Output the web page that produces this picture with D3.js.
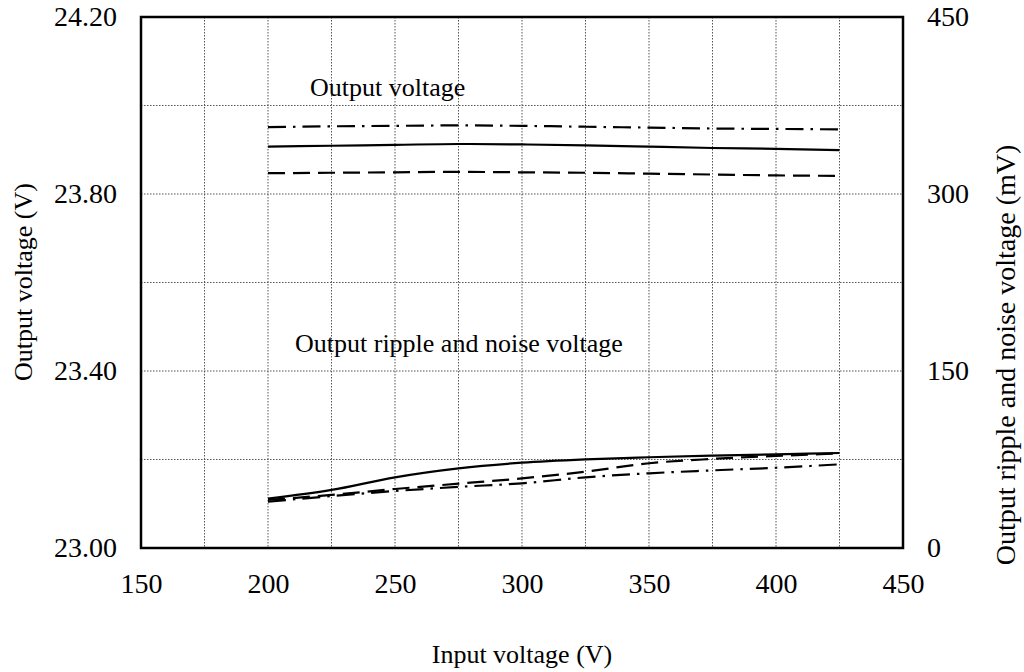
<!DOCTYPE html>
<html><head><meta charset="utf-8">
<script src="https://cdn.jsdelivr.net/npm/d3@7/dist/d3.min.js"></script>
<style>body{margin:0;background:#fff}svg{display:block}text{font-family:"Liberation Serif","Times New Roman",serif;fill:#000}</style>
</head><body><svg id="c" width="1024" height="672"></svg>
<script>
const inputV = [200, 225, 250, 275, 300, 325, 350, 375, 400, 425];
const voutSolid   = [23.907, 23.909, 23.911, 23.913, 23.912, 23.910, 23.907, 23.904, 23.902, 23.899];
const voutDashed  = [23.847, 23.848, 23.849, 23.850, 23.849, 23.848, 23.846, 23.844, 23.842, 23.841];
const voutDashDot = [23.951, 23.953, 23.954, 23.955, 23.954, 23.952, 23.950, 23.948, 23.947, 23.946];
const rippleSolid   = [41.8, 49.2, 59.9, 67.5, 72.3, 75.1, 76.9, 78.3, 79.4, 80.5];
const rippleDashed  = [40.7, 45.0, 50.0, 54.5, 59.0, 64.7, 71.8, 75.5, 78.0, 80.2];
const rippleDashDot = [39.2, 44.0, 48.3, 51.8, 54.8, 59.9, 63.3, 65.8, 68.0, 70.9];
const xTicks = [150, 200, 250, 300, 350, 400, 450];
const yLeftTicks = [23.00, 23.40, 23.80, 24.20];
const yRightTicks = [0, 150, 300, 450];

const L = 141, R = 903, T = 17, B = 548;
const svg = d3.select("#c");
const x = d3.scaleLinear().domain([150, 450]).range([L, R]);
const yL = d3.scaleLinear().domain([23.0, 24.2]).range([B, T]);
const yR = d3.scaleLinear().domain([0, 450]).range([B, T]);

// grid
const g = svg.append("g");
d3.range(175, 450, 25).forEach(v => {
  g.append("line").attr("x1", x(v)).attr("x2", x(v)).attr("y1", T).attr("y2", B)
    .attr("stroke", "#555").attr("stroke-width", 1).attr("stroke-dasharray", "1.5,1.5");
});
d3.range(1, 6).forEach(i => {
  const v = 23.0 + i * 0.2;
  g.append("line").attr("x1", L).attr("x2", R).attr("y1", yL(v)).attr("y2", yL(v))
    .attr("stroke", "#555").attr("stroke-width", 1).attr("stroke-dasharray", "1.5,1.5");
});

// axes (labels only)
const fs = 28;
const ax = svg.append("g").attr("transform", `translate(0,${B})`)
  .call(d3.axisBottom(x).tickValues(xTicks).tickSize(0).tickFormat(d3.format("d")));
const ayl = svg.append("g").attr("transform", `translate(${L},0)`)
  .call(d3.axisLeft(yL).tickValues(yLeftTicks).tickSize(0).tickPadding(24).tickFormat(d3.format(".2f")));
const ayr = svg.append("g").attr("transform", `translate(${R},0)`)
  .call(d3.axisRight(yR).tickValues(yRightTicks).tickSize(0).tickPadding(24).tickFormat(d3.format("d")));
[ax, ayl, ayr].forEach(a => {
  a.select(".domain").remove();
  a.selectAll("text").attr("font-size", fs).attr("font-family", "Liberation Serif");
});
ax.selectAll("text").attr("dy", "0.35em").attr("y", 35);

// lines
const lineL = d3.line().x((d, i) => x(inputV[i])).y(d => yL(d)).curve(d3.curveMonotoneX);
const lineR = d3.line().x((d, i) => x(inputV[i])).y(d => yR(d)).curve(d3.curveMonotoneX);
const styles = { solid: null, dashed: "17,8", dashdot: "18,7,2.5,7" };
function draw(gen, data, dash) {
  svg.append("path").attr("d", gen(data)).attr("fill", "none").attr("stroke", "#000")
    .attr("stroke-width", 2.2).attr("stroke-dasharray", dash);
}
draw(lineL, voutSolid, styles.solid);
draw(lineL, voutDashed, styles.dashed);
draw(lineL, voutDashDot, styles.dashdot);
draw(lineR, rippleSolid, styles.solid);
draw(lineR, rippleDashed, styles.dashed);
draw(lineR, rippleDashDot, styles.dashdot);

// frame
svg.append("rect").attr("x", L).attr("y", T).attr("width", R - L).attr("height", B - T)
  .attr("fill", "none").attr("stroke", "#000").attr("stroke-width", 2.5);

// annotations
svg.append("text").attr("x", 310).attr("y", 96).attr("font-size", 26).text("Output voltage");
svg.append("text").attr("x", 295).attr("y", 352).attr("font-size", 26).text("Output ripple and noise voltage");

// titles
svg.append("text").attr("x", (L + R) / 2).attr("y", 663).attr("text-anchor", "middle").attr("font-size", 26).text("Input voltage (V)");
svg.append("text").attr("transform", `translate(32,282) rotate(-90)`).attr("text-anchor", "middle").attr("font-size", 26).text("Output voltage (V)");
svg.append("text").attr("transform", `translate(1015,355) rotate(-90)`).attr("text-anchor", "middle").attr("font-size", 28).text("Output ripple and noise voltage (mV)");
</script></body></html>
